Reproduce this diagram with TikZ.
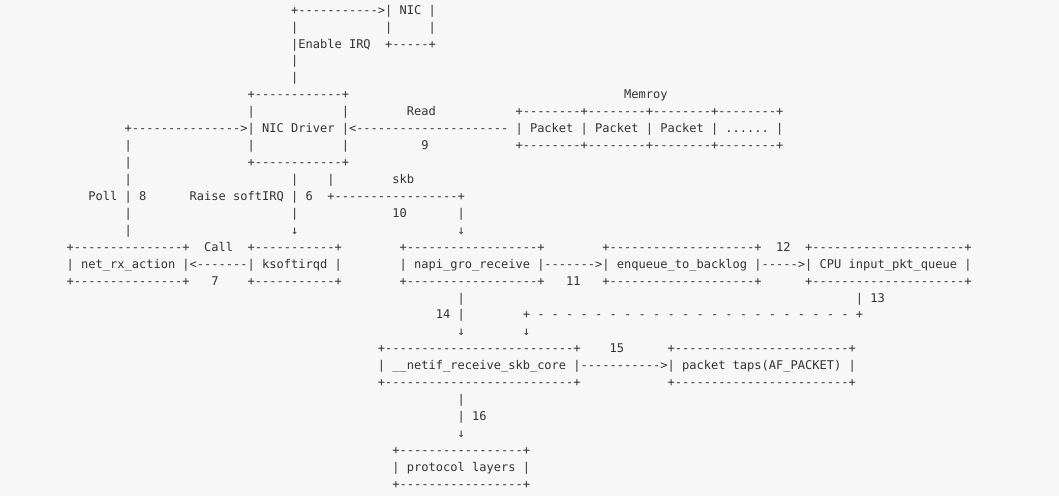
\documentclass[tikz,border=0pt]{standalone}
\usepackage{fontspec}
\setmonofont{DejaVu Sans Mono}
\definecolor{bg}{HTML}{F7F7F7}
\definecolor{txt}{HTML}{333333}
\ExplSyntaxOn
\NewDocumentCommand\dsh{m}{\prg_replicate:nn{#1}{-}}
\NewDocumentCommand\sdsh{m}{\prg_replicate:nn{#1}{~-}}
\ExplSyntaxOff
\tikzset{seg/.style={anchor=west, inner sep=0pt, text height=7pt, text depth=2.2pt,
  font=\ttfamily\fontsize{9.02pt}{11pt}\selectfont, text=txt}}
\newcommand\seg[4]{\node[seg] (#1) at ({66.38+7.24*(#3)},{11+16.93*(#2)}) {#4};}
\begin{document}
\begin{tikzpicture}[x=0.75pt,y=-0.75pt]
\fill[bg] (0,0) rectangle (1059,496);
\useasboundingbox (0,0) rectangle (1059,496);
% NIC
\seg{nicA}{0}{31}{+\dsh{11}>| NIC |}
\seg{irqA}{1}{31}{|}
\seg{nicL}{1}{44}{|}
\seg{nicR}{1}{50}{|}
\seg{irqB}{2}{31}{|Enable IRQ}
\seg{nicB}{2}{44}{+\dsh{5}+}
\seg{irqC}{3}{31}{|}
\seg{irqD}{4}{31}{|}
% NIC Driver and memory
\seg{drvT}{5}{25}{+\dsh{12}+}
\seg{memL}{5}{77}{Memroy}
\seg{drvL1}{6}{25}{|}
\seg{drvR1}{6}{38}{|}
\seg{readL}{6}{47}{Read}
\seg{memT}{6}{62}{+\dsh{8}+\dsh{8}+\dsh{8}+\dsh{8}+}
\seg{drvM}{7}{8}{+\dsh{15}>| NIC Driver |<\dsh{21} | Packet | Packet | Packet | ...... |}
\seg{pollA}{8}{8}{|}
\seg{drvL2}{8}{25}{|}
\seg{drvR2}{8}{38}{|}
\seg{nine}{8}{49}{9}
\seg{memB}{8}{62}{+\dsh{8}+\dsh{8}+\dsh{8}+\dsh{8}+}
\seg{pollB}{9}{8}{|}
\seg{drvB}{9}{25}{+\dsh{12}+}
\seg{pollC}{10}{8}{|}
\seg{softA}{10}{31}{|}
\seg{skbA}{10}{36}{|}
\seg{skbL}{10}{45}{skb}
\seg{pollD}{11}{3}{Poll | 8}
\seg{softB}{11}{17}{Raise softIRQ | 6}
\seg{skbB}{11}{36}{+\dsh{17}+}
\seg{pollE}{12}{8}{|}
\seg{softC}{12}{31}{|}
\seg{ten}{12}{45}{10}
\seg{skbC}{12}{54}{|}
\seg{pollF}{13}{8}{|}
\seg{softD}{13}{31}{↓}
\seg{skbD}{13}{54}{↓}
% row of boxes
\seg{netT}{14}{0}{+\dsh{15}+}
\seg{callL}{14}{19}{Call}
\seg{ksT}{14}{25}{+\dsh{11}+}
\seg{napiT}{14}{46}{+\dsh{18}+}
\seg{enqT}{14}{74}{+\dsh{20}+}
\seg{twelve}{14}{98}{12}
\seg{cpuT}{14}{102}{+\dsh{21}+}
\seg{netM}{15}{0}{| net\_rx\_action |<\dsh{7}| ksoftirqd |}
\seg{napiM}{15}{46}{| napi\_gro\_receive |\dsh{7}>| enqueue\_to\_backlog |\dsh{5}>| CPU input\_pkt\_queue |}
\seg{netB}{16}{0}{+\dsh{15}+}
\seg{seven}{16}{20}{7}
\seg{ksB}{16}{25}{+\dsh{11}+}
\seg{napiB}{16}{46}{+\dsh{18}+}
\seg{eleven}{16}{69}{11}
\seg{enqB}{16}{74}{+\dsh{20}+}
\seg{cpuB}{16}{102}{+\dsh{21}+}
% down to netif
\seg{napiA}{17}{54}{|}
\seg{cpuA}{17}{109}{| 13}
\seg{fourteen}{18}{51}{14 |}
\seg{tapD}{18}{63}{+\sdsh{22} +}
\seg{napiC}{19}{54}{↓}
\seg{tapE}{19}{63}{↓}
\seg{netifT}{20}{43}{+\dsh{26}+}
\seg{fifteen}{20}{75}{15}
\seg{tapsT}{20}{83}{+\dsh{24}+}
\seg{netifM}{21}{43}{| \_\_netif\_receive\_skb\_core |\dsh{11}>| packet taps(AF\_PACKET) |}
\seg{netifB}{22}{43}{+\dsh{26}+}
\seg{tapsB}{22}{83}{+\dsh{24}+}
% protocol layers
\seg{protA}{23}{54}{|}
\seg{protB}{24}{54}{| 16}
\seg{protC}{25}{54}{↓}
\seg{protT}{26}{45}{+\dsh{17}+}
\seg{protM}{27}{45}{| protocol layers |}
\seg{protBt}{28}{45}{+\dsh{17}+}
\end{tikzpicture}
\end{document}
